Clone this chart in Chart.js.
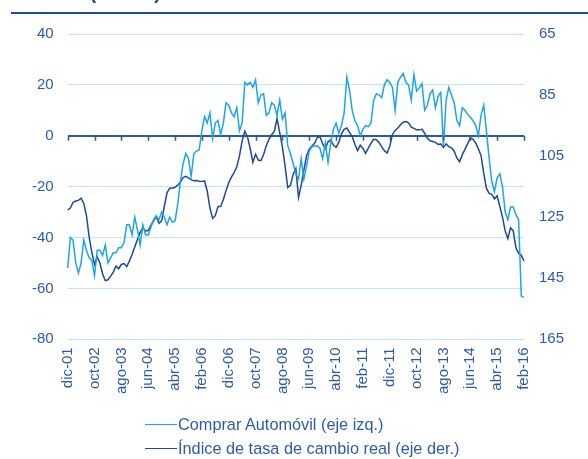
<!DOCTYPE html>
<html>
<head>
<meta charset="utf-8">
<script src="https://cdn.jsdelivr.net/npm/chart.js@4"></script>
<style>
  html, body { margin: 0; padding: 0; background: #fff; }
  #wrap { position: relative; width: 588px; height: 459px; overflow: hidden; font-family: "Liberation Sans", Arial, sans-serif; }
  #title { position: absolute; left: 14px; top: -19px; font-weight: bold; font-size: 20px; color: #1f4e9c; white-space: nowrap; }
  #rule { position: absolute; left: 11px; top: 12px; width: 577px; height: 2px; background: #1f4e9c; }
  canvas { position: absolute; left: 0; top: 0; }
  #legend { position: absolute; left: 145px; top: 412px; font-size: 16.3px; color: #2a5caa; }
  .item { display: flex; align-items: center; height: 24px; }
  .swatch { width: 32px; height: 0; border-top: 1.5px solid; margin-right: 1px; }
</style>
</head>
<body>
<div id="wrap">
  <div id="title">Gráfico (Índice)</div>
  <div id="rule"></div>
  <canvas id="myChart" width="588" height="459"></canvas>
  <div id="legend"></div>
</div>
<script>
// months dic-01 .. feb-16
const meses = ['ene', 'feb', 'mar', 'abr', 'may', 'jun', 'jul', 'ago', 'sep', 'oct', 'nov', 'dic'];
const labels = [];
for (let k = 11; k <= 11 + 170; k++) {
  const yy = 2001 + Math.floor(k / 12);
  labels.push(meses[k % 12] + '-' + String(yy % 100).padStart(2, '0'));
}

// Comprar Automóvil (eje izq.)
const compraAuto = [
  -52, -40, -41, -50, -54, -50, -41, -45, -48, -49,
  -55, -45, -45, -47, -43, -50, -48, -46, -46, -44,
  -44, -42, -35, -35, -39, -32, -37, -43, -35, -39,
  -39, -36, -33, -31.5, -33, -30, -32, -35, -32, -34,
  -33.5, -27, -18, -11, -7, -9, -16, -7, -6, -5.5,
  2, 7.5, 5, 9, -1, 5, 6, 0.5, 5, 13,
  12, 9, 7.5, 11, 2, 5, 21, 20, 21, 19,
  22, 13, 16, 16.5, 8, 9, 13, 12, 8, 14,
  6.5, 9, -4, -7, -11, -15, -17, -9, -17, -12,
  -6, -4.3, -4, -4, -5, -9, -3, -10.5, -3, 2.5,
  5, 1, 4, 9, 23, 18, 10, 6, 4, 0,
  2.5, 4, 3.5, 5, 14, 16.5, 16, 15, 20, 22,
  21, 19, 10, 21, 23, 24.5, 21, 20, 14, 24,
  17.5, 18.8, 20.5, 10, 12, 16.5, 18, 11, 15.5, 17,
  -4, 14, 19, 16, 13, 6, 4, 11, 10, 8.5,
  7.3, 6, 4, 0, 8, 12, 2, -8.6, -18, -22,
  -16.5, -15, -20, -30, -33, -28, -28, -31, -33, -63,
  -63.5
];

// Índice de tasa de cambio real (eje der.)
const tasaCambio = [
  122.6, 122, 120.1, 119.7, 119.5, 118.8, 120.5, 124.5, 131.5, 136.5,
  140.5, 138, 140, 143.5, 145.8, 145.5, 144.3, 143, 141, 141.9,
  140.5, 140.2, 141.2, 139.3, 137.2, 134.7, 132.3, 130, 128.5, 129.5,
  129.4, 127.7, 126.2, 124.8, 127, 126.2, 121.5, 117, 115.5, 115.5,
  115.2, 114.5, 113.5, 112, 111.6, 112.1, 112.7, 113.1, 113, 113.2,
  113.3, 113.1, 116.5, 122, 125.4, 124.5, 121.5, 121.5, 119.2, 116.3,
  113.7, 111.9, 110.4, 108.5, 105, 100, 96.8, 98.7, 102.5, 107,
  104.4, 106.3, 106.5, 104.5, 101.6, 99.5, 98, 96.8, 92.7, 97.3,
  102, 108.3, 115.3, 114.6, 111, 109.1, 118.5, 114.5, 109.6, 104.9,
  102.7, 101.7, 100.8, 98.9, 98.6, 101, 102.6, 100.3, 99.7, 101.4,
  102.1, 100.5, 97.7, 96.2, 95.8, 97.2, 98.6, 101.1, 103.2, 101.4,
  102.5, 104.1, 102.4, 100.8, 99.5, 99.6, 100.5, 102, 103.2, 104,
  101.8, 97.9, 96.6, 95.8, 94.7, 93.9, 93.7, 94.1, 95.5, 95.9,
  96.4, 96.4, 96.2, 97.5, 99.2, 100, 100.2, 100.5, 101.2, 101,
  102.2, 101, 101.9, 102.3, 103.4, 105.6, 106.8, 104.6, 102.8, 101,
  99, 99.5, 100.7, 102.6, 104.8, 110.6, 115.5, 117.2, 117.5, 119,
  118, 121.5, 125, 129.5, 132, 128.5, 129.5, 135, 136.8, 137.5,
  139.3
];

const seriesNames = ['Comprar Automóvil (eje izq.)', 'Índice de tasa de cambio real (eje der.)'];
const seriesColors = ['#1ea5e3', '#1b4a9b'];

const tickColor = '#2a5caa';
const gridColor = '#bfe6f7';
const zeroColor = '#2b5aa0';

// small tick marks on the zero line every 10 months
const zeroTicks = {
  id: 'zeroTicks',
  afterDatasetsDraw(chart) {
    const { ctx, scales: { x, y } } = chart;
    const y0 = y.getPixelForValue(0);
    ctx.save();
    ctx.strokeStyle = zeroColor;
    ctx.lineWidth = 1.5;
    labels.forEach((l, i) => {
      if (i % 10 !== 0) return;
      const px = Math.round(x.getPixelForValue(i)) + 0.5;
      ctx.beginPath();
      ctx.moveTo(px, y0);
      ctx.lineTo(px, y0 + 5);
      ctx.stroke();
    });
    ctx.restore();
  }
};

const ctx = document.getElementById('myChart');
Chart.defaults.font.family = '"Liberation Sans", Arial, sans-serif';

new Chart(ctx, {
  type: 'line',
  data: {
    labels: labels,
    datasets: [
      {
        label: seriesNames[0],
        data: compraAuto,
        yAxisID: 'y',
        borderColor: seriesColors[0],
        borderWidth: 1.5,
        pointRadius: 0,
        tension: 0
      },
      {
        label: seriesNames[1],
        data: tasaCambio,
        yAxisID: 'y2',
        borderColor: seriesColors[1],
        borderWidth: 1.5,
        pointRadius: 0,
        tension: 0
      }
    ]
  },
  options: {
    responsive: false,
    animation: false,
    layout: { padding: { left: 18, right: 9, top: 34, bottom: 65 } },
    scales: {
      x: {
        grid: { display: false },
        border: { display: false },
        ticks: {
          autoSkip: false,
          minRotation: 90,
          maxRotation: 90,
          padding: 0,
          color: tickColor,
          font: { size: 15 },
          callback: (v, i) => (i % 10 === 0 ? labels[i] : null)
        }
      },
      y: {
        position: 'left',
        min: -80,
        max: 40,
        border: { display: false },
        grid: {
          drawTicks: false,
          color: (c) => (c.tick && c.tick.value === 0 ? zeroColor : gridColor),
          lineWidth: (c) => (c.tick && c.tick.value === 0 ? 2 : 1)
        },
        ticks: { stepSize: 20, padding: 14, color: tickColor, font: { size: 15 } }
      },
      y2: {
        position: 'right',
        reverse: true,
        min: 65,
        max: 165,
        border: { display: false },
        grid: { drawOnChartArea: false, drawTicks: false },
        ticks: { stepSize: 20, padding: 15, color: tickColor, font: { size: 15 } }
      }
    },
    plugins: {
      legend: { display: false },
      tooltip: { enabled: false }
    }
  },
  plugins: [zeroTicks]
});

// legend below the chart
const legendEl = document.getElementById('legend');
seriesNames.forEach((name, i) => {
  const row = document.createElement('div');
  row.className = 'item';
  const sw = document.createElement('span');
  sw.className = 'swatch';
  sw.style.borderTopColor = seriesColors[i];
  const txt = document.createElement('span');
  txt.textContent = name;
  row.appendChild(sw);
  row.appendChild(txt);
  legendEl.appendChild(row);
});
</script>
</body>
</html>
